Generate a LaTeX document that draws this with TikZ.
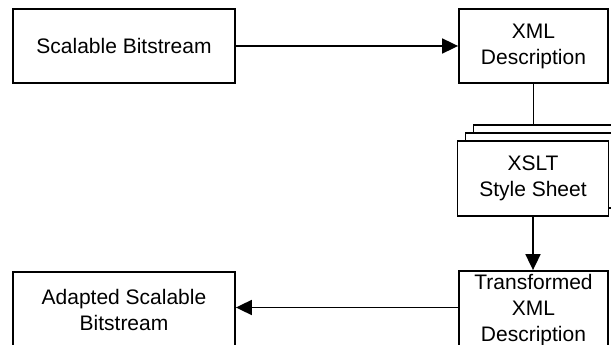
\documentclass[tikz,border=0pt]{standalone}
\usepackage{fontspec}
\setmainfont{Liberation Sans}
\usetikzlibrary{arrows.meta}
\begin{document}
\begin{tikzpicture}[x=1pt,y=-1pt,
  box/.style={draw,line width=1.8pt,fill=white,rectangle,inner sep=0pt,align=center,
    font=\fontsize{21}{26}\selectfont},
  conn/.style={line width=1.8pt},
  arr/.style={conn,-{Triangle[length=16pt,width=15pt]}}]
\useasboundingbox (0,0) rectangle (611,345);
\node[box,minimum width=222pt,minimum height=74pt] (sb) at (124,46) {Scalable Bitstream};
\node[box,minimum width=149pt,minimum height=74pt] (xml) at (533.5,46) {XML\\Description};
\node[box,minimum width=151pt,minimum height=75pt] (back) at (549,162.5) {};
\node[box,minimum width=151pt,minimum height=75pt] (mid) at (541,170.5) {};
\node[box,minimum width=151pt,minimum height=75pt] (xslt) at (533,178.5) {XSLT\\Style Sheet};
\node[box,minimum width=149pt,minimum height=78pt] (trans) at (533.5,310) {Transformed\\XML\\Description};
\node[box,minimum width=222pt,minimum height=76pt] (adapt) at (124,310) {Adapted Scalable\\Bitstream};
\draw[arr] (sb.east) -- (xml.west);
\draw[conn] (xml.south) -- (xml.south |- back.north);
\draw[arr] (xslt.south) -- (xslt.south |- trans.north);
\draw[arr] ([yshift=2.5pt]trans.west) -- ([yshift=2.5pt]trans.west -| adapt.east);
\end{tikzpicture}
\end{document}
